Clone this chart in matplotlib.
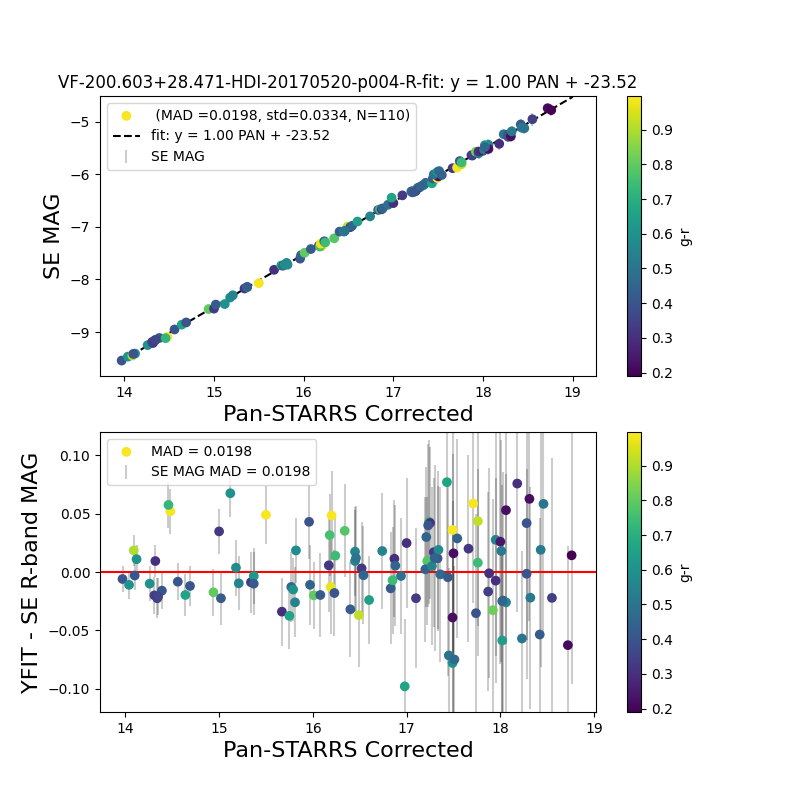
import numpy as np
import matplotlib
matplotlib.use('Agg')
import matplotlib.pyplot as plt

# Fit parameters
slope = 1.00
intercept = -23.52

# Pan-STARRS corrected magnitude
pan = np.array([
    14.48, 13.97, 14.04, 14.09, 14.12, 14.10, 14.26, 14.32, 14.31, 14.34,
    14.39, 14.46, 14.56, 14.64, 14.69, 14.94, 15.00, 15.02, 15.12, 15.18,
    15.21, 15.34, 15.37, 15.37, 15.50, 15.67, 15.75, 15.77, 15.79, 15.81,
    15.82, 15.96, 15.97, 16.01, 16.08, 16.17, 16.20, 16.18, 16.19, 16.23,
    16.24, 16.34, 16.40, 16.45, 16.45, 16.49, 16.52, 16.54, 16.60, 16.74,
    16.83, 16.85, 16.87, 16.88, 16.94, 17.00, 16.98, 17.10, 17.21, 17.24,
    17.25, 17.22, 17.20, 17.27, 17.29, 17.33, 17.34, 17.36, 17.43, 17.44,
    17.49, 17.50, 17.49, 17.45, 17.49, 17.51, 17.54, 17.66, 17.71, 17.76,
    17.74, 17.76, 17.88, 17.87, 17.92, 17.95, 17.95, 18.00, 18.01, 18.03,
    18.06, 18.06, 18.02, 18.18, 18.23, 18.28, 18.28, 18.31, 18.32, 18.42,
    18.43, 18.46, 18.55, 18.72, 18.76, 17.23, 17.30, 16.46, 14.35, 18.02,
])

# residual YFIT - SE MAG
resid = np.array([
    0.0520, -0.0060, -0.0110, 0.0185, 0.0110, -0.0030, -0.0100, 0.0094, -0.0200, -0.0225,
    -0.0160, 0.0575, -0.0083, -0.0197, -0.0120, -0.0174, 0.0348, -0.0225, 0.0675, 0.0037,
    -0.0097, -0.0088, -0.0034, -0.0100, 0.0490, -0.0340, -0.0376, -0.0128, -0.0150, -0.0260,
    0.0185, 0.0430, -0.0110, -0.0200, -0.0197, 0.0057, 0.0484, 0.0316, -0.0128, -0.0180,
    0.0140, 0.0353, -0.0320, 0.0174, 0.0094, -0.0370, 0.0031, -0.0028, -0.0240, 0.0180,
    -0.0140, -0.0071, 0.0114, 0.0054, -0.0034, 0.0248, -0.0980, -0.0225, 0.0300, 0.0430,
    0.0420, 0.0094, 0.0023, 0.0051, 0.0170, 0.0117, 0.0190, -0.0020, 0.0770, -0.0045,
    0.0360, 0.0160, -0.0390, -0.0715, -0.0780, -0.0750, 0.0288, 0.0200, 0.0587, 0.0436,
    -0.0353, 0.0080, -0.0011, -0.0168, -0.0327, 0.0276, -0.0074, 0.0260, 0.0180, -0.0245,
    -0.0260, 0.0530, -0.0587, 0.0758, -0.0570, 0.0419, -0.0015, 0.0627, -0.0220, -0.0536,
    0.0190, 0.0584, -0.0222, -0.0627, 0.0143, 0.0400, 0.0120, 0.0120, -0.0210, -0.0250,
])

# g-r colour
gr = np.array([
    0.99, 0.40, 0.60, 0.90, 0.60, 0.40, 0.60, 0.30, 0.34, 0.33,
    0.40, 0.72, 0.40, 0.66, 0.40, 0.80, 0.32, 0.42, 0.60, 0.58,
    0.55, 0.32, 0.62, 0.42, 0.99, 0.30, 0.66, 0.46, 0.60, 0.55,
    0.58, 0.40, 0.44, 0.80, 0.42, 0.32, 0.99, 0.76, 0.97, 0.40,
    0.74, 0.78, 0.42, 0.55, 0.55, 0.92, 0.32, 0.45, 0.64, 0.55,
    0.42, 0.74, 0.30, 0.45, 0.48, 0.30, 0.66, 0.33, 0.44, 0.72,
    0.30, 0.78, 0.44, 0.55, 0.32, 0.40, 0.58, 0.46, 0.66, 0.42,
    0.99, 0.22, 0.22, 0.50, 0.60, 0.46, 0.44, 0.32, 0.99, 0.92,
    0.40, 0.74, 0.30, 0.34, 0.82, 0.55, 0.30, 0.24, 0.52, 0.42,
    0.56, 0.22, 0.64, 0.30, 0.50, 0.40, 0.40, 0.22, 0.52, 0.42,
    0.52, 0.50, 0.34, 0.21, 0.19, 0.40, 0.44, 0.50, 0.36, 0.45,
])

# SE MAG error
err = np.array([
    0.019, 0.011, 0.012, 0.013, 0.012, 0.012, 0.015, 0.014, 0.016, 0.017,
    0.016, 0.020, 0.016, 0.018, 0.017, 0.020, 0.019, 0.023, 0.020, 0.024,
    0.023, 0.026, 0.024, 0.027, 0.025, 0.029, 0.028, 0.030, 0.027, 0.030,
    0.028, 0.032, 0.034, 0.029, 0.036, 0.040, 0.038, 0.035, 0.040, 0.037,
    0.036, 0.040, 0.041, 0.038, 0.044, 0.044, 0.040, 0.042, 0.038, 0.050,
    0.048, 0.046, 0.050, 0.052, 0.050, 0.056, 0.058, 0.060, 0.060, 0.070,
    0.065, 0.055, 0.062, 0.068, 0.064, 0.062, 0.068, 0.075, 0.080, 0.085,
    0.110, 0.085, 0.100, 0.075, 0.090, 0.080, 0.085, 0.080, 0.085, 0.090,
    0.085, 0.080, 0.090, 0.085, 0.095, 0.100, 0.088, 0.105, 0.095, 0.110,
    0.110, 0.115, 0.085, 0.110, 0.075, 0.100, 0.090, 0.105, 0.095, 0.100,
    0.100, 0.110, 0.120, 0.085, 0.110, 0.070, 0.080, 0.045, 0.016, 0.100,
])

se_mag = slope * pan + intercept - resid

title = 'VF-200.603+28.471-HDI-20170520-p004-R-fit: y = 1.00 PAN + -23.52'
vmin, vmax = 0.19, 0.997

fig, axes = plt.subplots(2, 1, figsize=(8, 8), dpi=100)

# top: SE MAG vs Pan-STARRS
ax = axes[0]
sc = ax.scatter(pan, se_mag, c=gr, cmap='viridis', vmin=vmin, vmax=vmax, zorder=3,
                label=' (MAD =0.0198, std=0.0334, N=110)')
xline = np.array([pan.min(), 19.0])
ax.plot(xline, slope * xline + intercept, 'k--', label='fit: y = 1.00 PAN + -23.52')
ax.errorbar(pan, se_mag, yerr=err, fmt='none', ecolor='k', alpha=0.2, label='SE MAG')
ax.set_xlim(13.729, 19.259)
ax.set_ylim(-9.838, -4.505)
ax.set_xlabel('Pan-STARRS Corrected', fontsize=16)
ax.set_ylabel('SE MAG', fontsize=16)
ax.set_title(title, fontsize=12)
ax.legend(loc='upper left')
cb = fig.colorbar(sc, ax=ax)
cb.set_label('g-r')

# bottom: residuals
ax = axes[1]
sc = ax.scatter(pan, resid, c=gr, cmap='viridis', vmin=vmin, vmax=vmax, zorder=3,
                label='MAD = 0.0198')
ax.errorbar(pan, resid, yerr=err, fmt='none', ecolor='k', alpha=0.2,
            label='SE MAG MAD = 0.0198')
ax.axhline(0, color='r')
ax.set_xlim(13.73, 19.02)
ax.set_ylim(-0.12, 0.12)
ax.set_xlabel('Pan-STARRS Corrected', fontsize=16)
ax.set_ylabel('YFIT - SE R-band MAG', fontsize=16)
ax.legend(loc='upper left')
cb = fig.colorbar(sc, ax=ax)
cb.set_label('g-r')

plt.savefig('out.png')
